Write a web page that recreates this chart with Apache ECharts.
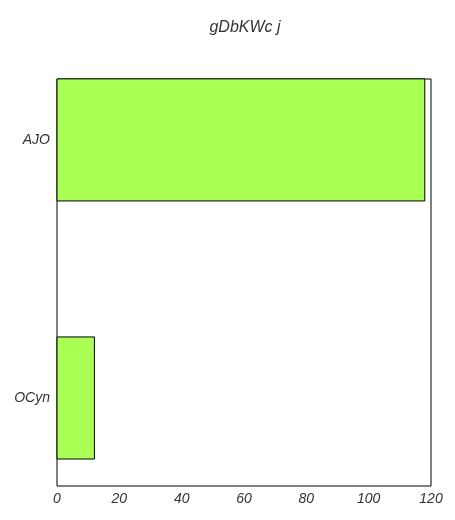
<!DOCTYPE html>
<html>
<head>
<meta charset="utf-8">
<script src="https://cdn.jsdelivr.net/npm/echarts@6/dist/echarts.min.js"></script>
<style>
  html, body { margin: 0; padding: 0; background: #fff; }
  #chart { width: 455px; height: 520px; }
</style>
</head>
<body>
<div id="chart"></div>
<script>
const categories = ['AJO', 'OCyn'];
const values = [118, 12];
const xTicks = [0, 20, 40, 60, 80, 100, 120];

const chart = echarts.init(document.getElementById('chart'));

const fontFamily = '"Liberation Sans", Arial, sans-serif';
const barHeight = 0.473;

// one rectangle per category, placed by the axes
function renderBar(params, api) {
    const idx = api.value(0);
    const val = api.value(1);
    const start = api.coord([0, idx]);
    const end = api.coord([val, idx]);
    const h = api.size([0, barHeight])[1];
    return {
        type: 'rect',
        shape: { x: start[0], y: start[1] - h / 2, width: end[0] - start[0], height: h },
        style: { fill: '#aaff55', stroke: '#000', lineWidth: 1 }
    };
}

chart.setOption({
    animation: false,
    title: {
        text: 'gDbKWc j',
        left: 240,
        textAlign: 'center',
        top: 15,
        textStyle: { fontFamily, fontStyle: 'italic', fontWeight: 'normal', fontSize: 16, color: '#333' }
    },
    grid: {
        left: 57, right: 24, top: 79, bottom: 34,
        show: true, borderColor: '#000', borderWidth: 1
    },
    xAxis: {
        type: 'value',
        min: 0, max: 120, interval: 20,
        axisLine: { show: false },
        axisTick: { show: false },
        splitLine: { show: false },
        axisLabel: {
            margin: 6,
            customValues: xTicks,
            fontFamily, fontStyle: 'italic', fontSize: 14, color: '#333'
        }
    },
    yAxis: {
        type: 'value',
        inverse: true,
        min: -0.236, max: 1.341,
        axisLine: { show: false },
        axisTick: { show: false },
        splitLine: { show: false },
        axisLabel: {
            margin: 7,
            customValues: [0, 1],
            formatter: v => categories[Math.round(v)] || '',
            fontFamily, fontStyle: 'italic', fontSize: 14, color: '#333'
        }
    },
    series: [{
        type: 'custom',
        renderItem: renderBar,
        encode: { x: 1, y: 0 },
        data: values.map((v, i) => [i, v])
    }]
});
</script>
</body>
</html>
